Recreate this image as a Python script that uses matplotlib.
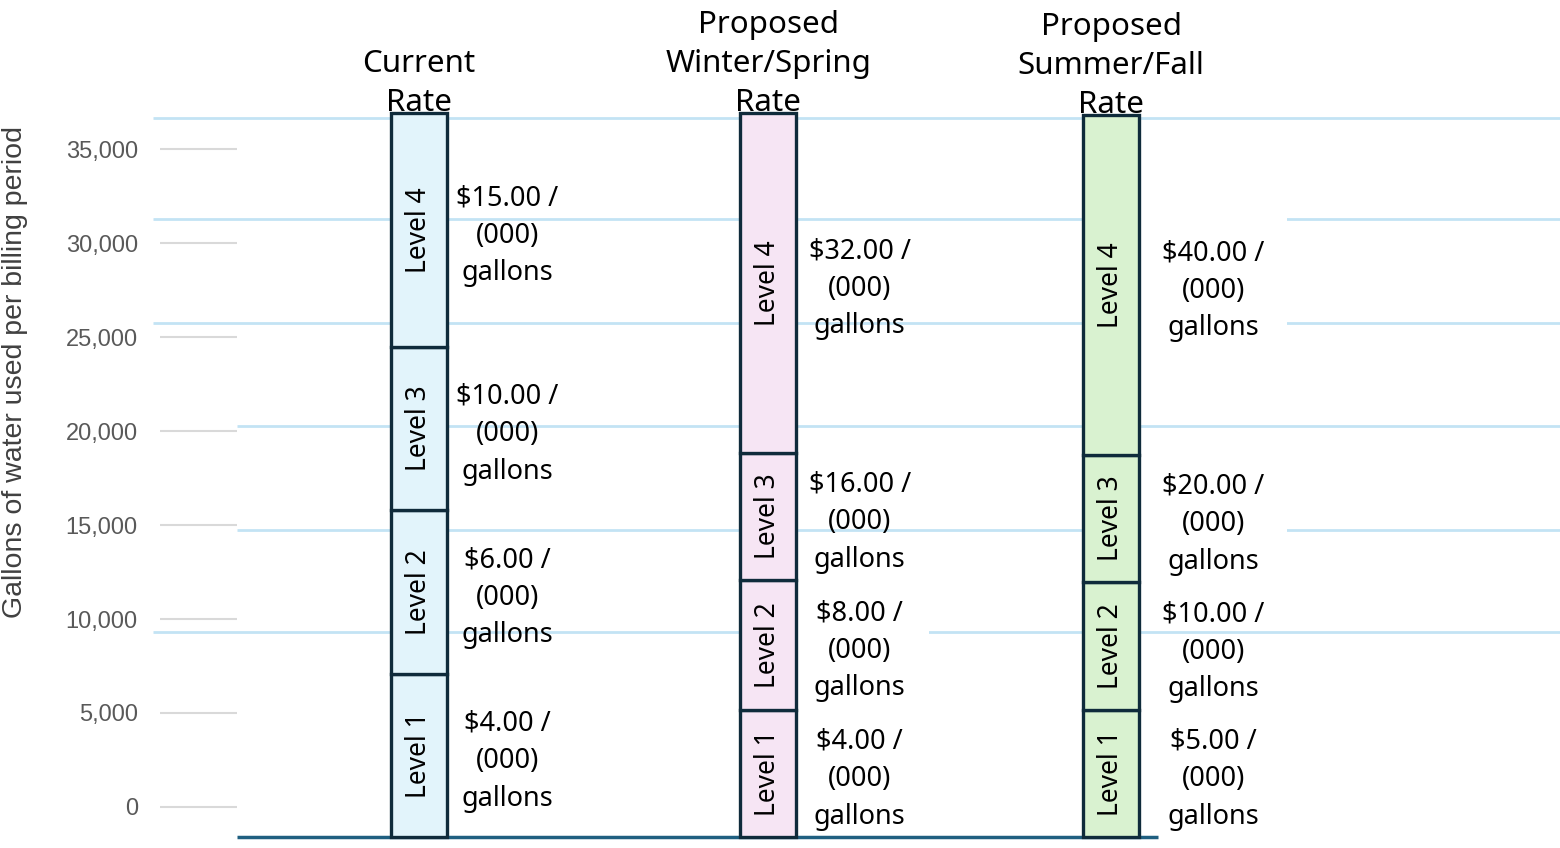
import matplotlib
matplotlib.use("Agg")
import matplotlib.pyplot as plt
import numpy as np

# ---------------- data ----------------
columns = ["Current\nRate", "Proposed\nWinter/Spring\nRate", "Proposed\nSummer/Fall\nRate"]
tier_names = ["Level 1", "Level 2", "Level 3", "Level 4"]
bar_base = -1600
current_tiers = [8670, 8720, 8670, 12450]
winter_tiers = [6760, 6910, 6760, 18090]
summer_tiers = [6760, 6810, 6755, 18085]
current_rates = ["$4.00 /", "$6.00 /", "$10.00 /", "$15.00 /"]
winter_rates = ["$4.00 /", "$8.00 /", "$16.00 /", "$32.00 /"]
summer_rates = ["$5.00 /", "$10.00 /", "$20.00 /", "$40.00 /"]
rate_unit = "(000)\ngallons"
y_ticks = [0, 5000, 10000, 15000, 20000, 25000, 30000, 35000]
y_label = "Gallons of water used per billing period"
ref_line_levels = [36650, 31280, 25750, 20270, 14730, 9310]

# ---------------- style ----------------
W, H, DPI = 1560, 848, 100
fig = plt.figure(figsize=(W / DPI, H / DPI), dpi=DPI)
fig.patch.set_facecolor("white")
ax = fig.add_axes([160 / W, 0, 1 - 160 / W, 1])
XL, XR = -0.7486, 3.2977
ax.set_xlim(XL, XR)
ax.set_ylim(-2181, 42926)
for s in ax.spines.values():
    s.set_visible(False)
ax.set_xticks([])
ax.set_yticks(y_ticks)
ax.set_yticklabels([f"{v:,}" for v in y_ticks], family="Liberation Sans",
                   fontsize=17, color="#595959")
ax.tick_params(axis="y", length=0, pad=16)

main_font = "Noto Sans"
edge = "#0f2b3b"
fills = ["#e2f4fb", "#f6e5f4", "#d9f2d0"]
line_blue = "#c3e3f4"
bar_w = 0.162
xs = np.array([0, 1.009, 2.0])

# short gray tick marks
ax.hlines(y_ticks, XL, -0.526, color="#d9d9d9", lw=1.5, zorder=1)

# light-blue decorative reference lines
starts = [-0.769, -0.769, -0.769, -0.526, -0.526, -0.769]
for lvl, st in zip(ref_line_levels, starts):
    ax.hlines(lvl, st, XR, color=line_blue, lw=2.0, zorder=1, clip_on=False)

# baseline
ax.hlines(bar_base, -0.526, 2.136, color="#1f5f80", lw=2.5, zorder=2)

all_tiers = [current_tiers, winter_tiers, summer_tiers]
all_rates = [current_rates, winter_rates, summer_rates]
label_dx = [0.255, 0.265, 0.295]
mask = {(2, 3), (2, 2), (1, 1)}

for i, (tiers, rates) in enumerate(zip(all_tiers, all_rates)):
    bottoms = bar_base + np.concatenate([[0], np.cumsum(tiers)[:-1]])
    ax.bar(np.full(len(tiers), xs[i]), tiers, bottom=bottoms, width=bar_w,
           color=fills[i], edgecolor=edge, linewidth=2.4, zorder=4)
    for j, (h, b) in enumerate(zip(tiers, bottoms)):
        yc = b + h / 2
        ax.text(xs[i], yc, tier_names[j], rotation=90, ha="center", va="center",
                family=main_font, fontsize=19, color="black", zorder=5)
        kw = {}
        if (i, j) in mask:
            kw["bbox"] = dict(boxstyle="square,pad=0.85", fc="white", ec="none")
        ax.text(xs[i] + label_dx[i], yc - 300, rates[j] + "\n" + rate_unit,
                ha="center", va="center", multialignment="center",
                family=main_font, fontsize=19.5, linespacing=1.45,
                color="black", zorder=3, **kw)
    top = bar_base + sum(tiers)
    ax.text(xs[i], top - 250, columns[i], ha="center", va="bottom",
            multialignment="center", family=main_font, fontsize=22.5,
            linespacing=1.38, color="black", zorder=5)

fig.text(15 / W, 1 - 372 / H, y_label, rotation=90, ha="center", va="center",
         family="Liberation Sans", fontsize=20.5, color="#404040")

fig.savefig("out.png", dpi=DPI, facecolor="white")
